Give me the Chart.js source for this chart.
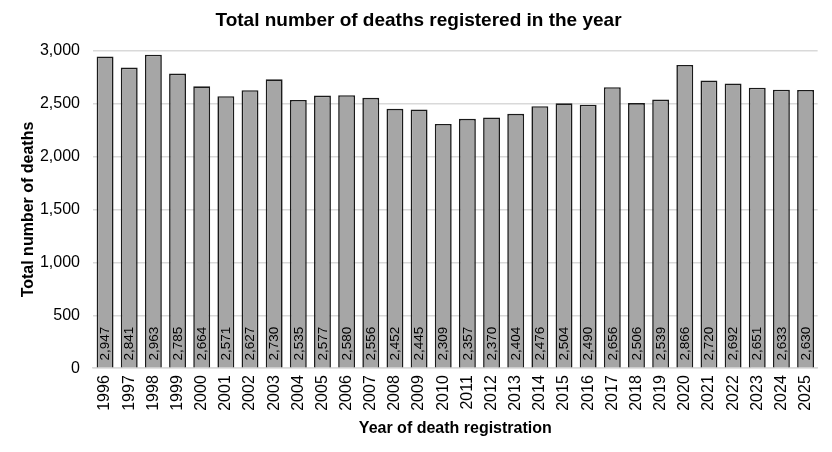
<!DOCTYPE html>
<html>
<head>
<meta charset="utf-8">
<script src="https://cdn.jsdelivr.net/npm/chart.js@4"></script>
<style>
  body { margin: 0; background: #fff; }
  #wrap { width: 832px; height: 452px; }
</style>
</head>
<body>
<div id="wrap"><canvas id="deathsChart" width="832" height="452"></canvas></div>
<script>
// Data
const years = ['1996', '1997', '1998', '1999', '2000', '2001', '2002', '2003', '2004', '2005',
               '2006', '2007', '2008', '2009', '2010', '2011', '2012', '2013', '2014', '2015',
               '2016', '2017', '2018', '2019', '2020', '2021', '2022', '2023', '2024', '2025'];
const deaths = [2947, 2841, 2963, 2785, 2664, 2571, 2627, 2730, 2535, 2577,
                2580, 2556, 2452, 2445, 2309, 2357, 2370, 2404, 2476, 2504,
                2490, 2656, 2506, 2539, 2866, 2720, 2692, 2651, 2633, 2630];
const yTicks = [0, 500, 1000, 1500, 2000, 2500, 3000];

const fontFamily = '"Liberation Sans", Arial, sans-serif';

// Draws the rotated value labels at the base of each bar
const barLabels = {
    id: 'barLabels',
    afterDatasetsDraw(chart) {
        const ctx = chart.ctx;
        const meta = chart.getDatasetMeta(0);
        ctx.save();
        ctx.fillStyle = '#000';
        ctx.font = '13.5px ' + fontFamily;
        ctx.textAlign = 'left';
        ctx.textBaseline = 'middle';
        meta.data.forEach((bar, i) => {
            ctx.save();
            ctx.translate(bar.x + 0.5, bar.base - 7);
            ctx.rotate(-Math.PI / 2);
            ctx.fillText(deaths[i].toLocaleString('en-GB'), 0, 0);
            ctx.restore();
        });
        ctx.restore();
    }
};

const ctx = document.getElementById('deathsChart').getContext('2d');
const deathsChart = new Chart(ctx, {
    type: 'bar',
    data: {
        labels: years,
        datasets: [{
            label: 'Total number of deaths',
            data: deaths,
            backgroundColor: '#a6a6a6',
            borderColor: '#1a1a1a',
            borderWidth: 1.6,
            categoryPercentage: 1,
            barPercentage: 0.7
        }]
    },
    options: {
        responsive: false,
        animation: false,
        layout: { padding: { left: 19, right: 14, top: 1, bottom: 14 } },
        plugins: {
            legend: { display: false },
            tooltip: { enabled: false },
            title: {
                display: true,
                text: 'Total number of deaths registered in the year',
                color: '#000',
                font: { family: fontFamily, size: 19, weight: 'bold' },
                padding: { top: 8, bottom: 19 }
            }
        },
        scales: {
            x: {
                grid: { display: false, drawTicks: false },
                border: { color: '#d9d9d9', width: 1.5 },
                ticks: {
                    color: '#000',
                    font: { family: fontFamily, size: 16 },
                    maxRotation: 90,
                    minRotation: 90,
                    autoSkip: false,
                    padding: 7
                },
                title: {
                    display: true,
                    text: 'Year of death registration',
                    color: '#000',
                    font: { family: fontFamily, size: 16, weight: 'bold' },
                    padding: { top: 1, bottom: 0 }
                }
            },
            y: {
                min: 0,
                max: 3000,
                afterBuildTicks(axis) {
                    axis.ticks = yTicks.map(v => ({ value: v }));
                },
                afterFit(axis) {
                    axis.width = 74;
                },
                grid: { color: '#d9d9d9', lineWidth: 1.5, drawTicks: false },
                border: { display: false },
                ticks: {
                    color: '#000',
                    font: { family: fontFamily, size: 16 },
                    padding: 13,
                    callback: v => v.toLocaleString('en-GB')
                },
                title: {
                    display: true,
                    text: 'Total number of deaths',
                    color: '#000',
                    font: { family: fontFamily, size: 16, weight: 'bold' },
                    padding: { top: 0, bottom: 0 }
                }
            }
        }
    },
    plugins: [barLabels]
});
</script>
</body>
</html>
